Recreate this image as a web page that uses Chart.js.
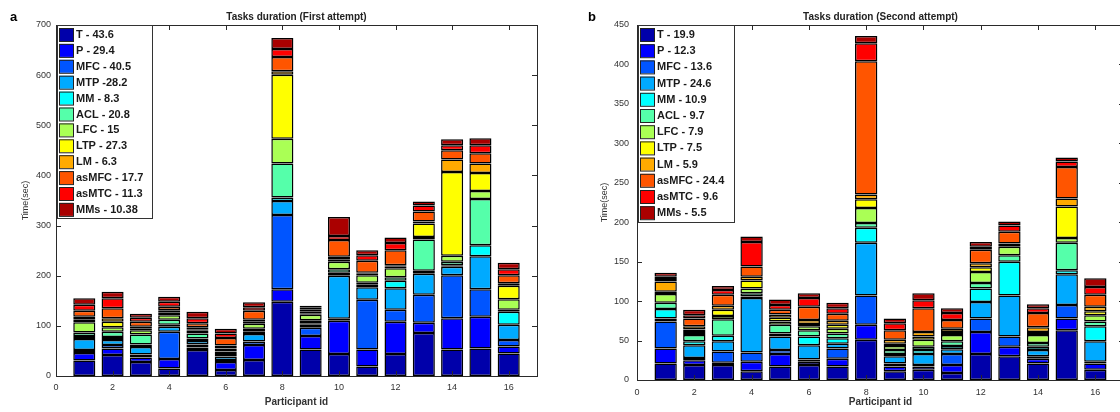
<!DOCTYPE html>
<html>
<head>
<meta charset="utf-8">
<title>Tasks duration</title>
<script src="https://cdn.jsdelivr.net/npm/chart.js@4.4.1/dist/chart.umd.min.js"></script>
<style>
  html, body { margin: 0; padding: 0; background: #fff; }
  body { width: 1120px; height: 412px; overflow: hidden; position: relative; }
  .panel { position: absolute; top: 0; height: 412px; }
  #wrapA { left: 0; width: 560px; }
  #wrapB { left: 560px; width: 600px; }
</style>
</head>
<body>
<div class="panel" id="wrapA"><canvas id="chartA" width="560" height="412"></canvas></div>
<div class="panel" id="wrapB"><canvas id="chartB" width="600" height="412"></canvas></div>
<script>
// Participants and axis ticks
const participants = [1, 2, 3, 4, 5, 6, 7, 8, 9, 10, 11, 12, 13, 14, 15, 16];
const xTickValues = [0, 2, 4, 6, 8, 10, 12, 14, 16];
const yTicksFirst = [0, 100, 200, 300, 400, 500, 600, 700];
const yTicksSecond = [0, 50, 100, 150, 200, 250, 300, 350, 400, 450];

// Legend texts (task - mean time)
const legendFirst = ['T - 43.6', 'P - 29.4', 'MFC - 40.5', 'MTP -28.2', 'MM - 8.3', 'ACL - 20.8',
    'LFC - 15', 'LTP - 27.3', 'LM - 6.3', 'asMFC - 17.7', 'asMTC - 11.3', 'MMs - 10.38'];
const legendSecond = ['T - 19.9', 'P - 12.3', 'MFC - 13.6', 'MTP - 24.6', 'MM - 10.9', 'ACL - 9.7',
    'LFC - 7.9', 'LTP - 7.5', 'LM - 5.9', 'asMFC - 24.4', 'asMTC - 9.6', 'MMs - 5.5'];

// First attempt, seconds per task for participants 1..16
const firstT     = [31, 42, 28, 15, 52, 12, 32, 148, 53, 44, 19, 44, 86, 53, 55, 45];
const firstP     = [15, 13, 9, 19, 5, 16, 30, 25, 27, 66, 34, 64, 20, 62, 63, 14];
const firstMFC   = [6, 7, 6, 54, 6, 4, 7, 148, 16, 4, 99, 24, 56, 86, 55, 13];
const firstMTP   = [22, 10, 15, 10, 7, 7, 15, 28, 6, 86, 25, 43, 42, 17, 66, 30];
const firstMM    = [6, 6, 5, 4, 5, 5, 4, 7, 3, 6, 5, 15, 6, 3, 22, 26];
const firstACL   = [7, 10, 20, 10, 10, 5, 6, 68, 6, 7, 4, 7, 62, 7, 92, 4];
const firstLFC   = [20, 9, 8, 9, 5, 6, 10, 49, 11, 15, 15, 18, 5, 12, 16, 21];
const firstLTP   = [6, 11, 3, 5, 3, 3, 4, 128, 3, 5, 3, 3, 27, 167, 36, 27];
const firstLM    = [5, 7, 4, 5, 4, 3, 4, 7, 3, 5, 2, 3, 4, 25, 19, 5];
const firstAsMFC = [12, 20, 10, 7, 8, 15, 18, 28, 4, 33, 24, 30, 20, 18, 20, 16];
const firstAsMTC = [12, 20, 8, 10, 10, 9, 7, 16, 4, 8, 11, 14, 12, 10, 16, 12];
const firstMMs   = [13, 13, 8, 10, 13, 9, 10, 22, 4, 38, 10, 11, 8, 12, 14, 13];

// Second attempt
const secondT     = [21, 19, 19, 11, 17, 19, 17, 51, 11, 13, 9, 33, 30, 21, 63, 13];
const secondP     = [19, 6, 3, 12, 16, 4, 10, 19, 6, 4, 10, 28, 12, 6, 15, 8];
const secondMFC   = [34, 3, 14, 12, 5, 3, 13, 37, 4, 2, 14, 17, 13, 3, 17, 2];
const secondMTP   = [4, 16, 13, 69, 17, 18, 6, 67, 9, 14, 6, 21, 52, 8, 39, 26];
const secondMM    = [12, 5, 7, 2, 4, 11, 7, 19, 3, 5, 4, 17, 43, 4, 5, 19];
const secondACL   = [8, 8, 21, 4, 11, 8, 6, 6, 5, 4, 6, 7, 8, 5, 35, 6];
const secondLFC   = [11, 4, 4, 6, 4, 5, 6, 19, 5, 9, 8, 14, 11, 10, 6, 8];
const secondLTP   = [3, 3, 8, 10, 5, 3, 5, 11, 3, 4, 4, 6, 2, 4, 40, 5];
const secondLM    = [13, 4, 5, 5, 4, 5, 5, 6, 5, 6, 4, 5, 2, 6, 10, 6];
const secondAsMFC = [3, 10, 14, 13, 6, 17, 9, 169, 12, 30, 11, 17, 15, 18, 40, 15];
const secondAsMTC = [3, 4, 6, 31, 6, 11, 7, 23, 9, 10, 9, 4, 8, 6, 7, 10];
const secondMMs   = [5, 7, 5, 7, 7, 6, 7, 9, 6, 9, 6, 6, 5, 5, 5, 11];

// MATLAB jet(12) colours, one per task
const jetColors = ['#0000AA', '#0000FF', '#0055FF', '#00AAFF', '#00FFFF', '#55FFAA',
    '#AAFF55', '#FFFF00', '#FFAA00', '#FF5500', '#FF0000', '#AA0000'];

const FONT = "Arial, 'Liberation Sans', sans-serif";

// Box frame, inward ticks, in-axes legend and panel letter (MATLAB look)
const matlabFrame = {
    id: 'matlabFrame',
    afterDraw(chart, args, opts) {
        const { ctx, chartArea: a, scales: { x, y } } = chart;
        ctx.save();
        ctx.strokeStyle = '#2a2a2a';
        ctx.lineWidth = 1;
        ctx.beginPath();
        x.ticks.forEach((t) => {
            const px = Math.round(x.getPixelForValue(t.value)) + 0.5;
            ctx.moveTo(px, a.top); ctx.lineTo(px, a.top + 5);
            ctx.moveTo(px, a.bottom); ctx.lineTo(px, a.bottom - 5);
        });
        y.ticks.forEach((t) => {
            const py = Math.round(y.getPixelForValue(t.value)) + 0.5;
            ctx.moveTo(a.left, py); ctx.lineTo(a.left + 5, py);
            ctx.moveTo(a.right, py); ctx.lineTo(a.right - 5, py);
        });
        ctx.stroke();
        ctx.strokeRect(Math.round(a.left) + 0.5, Math.round(a.top) + 0.5,
            Math.round(a.right - a.left), Math.round(a.bottom - a.top));

        // legend inside the axes, top left
        const lx = a.left + 1, ly = a.top;
        ctx.fillStyle = '#fff';
        ctx.fillRect(lx, ly, opts.boxW, opts.boxH);
        ctx.strokeStyle = '#333';
        ctx.strokeRect(lx + 0.5, ly + 0.5, opts.boxW, opts.boxH);
        ctx.font = 'bold 11px ' + FONT;
        ctx.textBaseline = 'middle';
        chart.data.datasets.forEach((ds, i) => {
            const cy = ly + opts.firstRow + i * opts.rowH;
            ctx.fillStyle = ds.backgroundColor;
            ctx.fillRect(lx + 2, cy - 6.5, 14, 13);
            ctx.strokeStyle = '#222';
            ctx.strokeRect(lx + 2.5, cy - 6, 14, 13);
            ctx.fillStyle = '#1a1a1a';
            ctx.fillText(ds.label, lx + 19, cy + 0.5);
        });

        // panel letter
        ctx.font = 'bold 13px ' + FONT;
        ctx.fillStyle = '#000';
        ctx.textBaseline = 'middle';
        ctx.fillText(opts.letter, opts.letterX, opts.letterY);
        ctx.restore();
    }
};

function buildDatasets(series, labels) {
    return series.map((values, i) => ({
        label: labels[i],
        data: values,
        backgroundColor: jetColors[i],
        borderColor: '#000',
        borderWidth: 1.5,
        borderSkipped: false,
        barPercentage: 0.78,
        categoryPercentage: 1
    }));
}

function makeChart(canvasId, series, labels, yTicks, cfg) {
    const ctx = document.getElementById(canvasId).getContext('2d');
    return new Chart(ctx, {
        type: 'bar',
        data: { labels: participants, datasets: buildDatasets(series, labels) },
        options: {
            responsive: false,
            animation: false,
            layout: { padding: { left: 0, right: cfg.padRight, top: 0, bottom: 0 } },
            plugins: {
                legend: { display: false },
                tooltip: { enabled: false },
                title: {
                    display: true,
                    text: cfg.title,
                    fullSize: false,
                    color: '#222',
                    font: { family: FONT, size: 10, weight: 'bold' },
                    padding: { top: 11, bottom: 2 }
                },
                matlabFrame: cfg.frame
            },
            scales: {
                x: {
                    type: 'linear',
                    min: 0,
                    max: 17,
                    offset: false,
                    stacked: true,
                    afterBuildTicks: (s) => { s.ticks = xTickValues.map((v) => ({ value: v })); },
                    afterFit: (s) => { s.height = cfg.xHeight; },
                    grid: { display: false, drawTicks: false },
                    border: { display: false },
                    ticks: { padding: cfg.xTickPad, color: '#333', font: { family: FONT, size: 9 } },
                    title: {
                        display: true,
                        text: 'Participant id',
                        color: '#333',
                        font: { family: FONT, size: 10, weight: 'bold' },
                        padding: { top: 0, bottom: 4 }
                    }
                },
                y: {
                    min: 0,
                    max: yTicks[yTicks.length - 1],
                    stacked: true,
                    afterBuildTicks: (s) => { s.ticks = yTicks.map((v) => ({ value: v })); },
                    afterFit: (s) => { s.width = cfg.yWidth; },
                    grid: { display: false, drawTicks: false },
                    border: { display: false },
                    ticks: { padding: cfg.yTickPad, color: '#333', font: { family: FONT, size: 9 } },
                    title: {
                        display: true,
                        text: 'Time(sec)',
                        color: '#333',
                        font: { family: FONT, size: 9 },
                        padding: { top: cfg.yTitlePad, bottom: 0 }
                    }
                }
            }
        },
        plugins: [matlabFrame]
    });
}

const chartA = makeChart('chartA',
    [firstT, firstP, firstMFC, firstMTP, firstMM, firstACL, firstLFC, firstLTP, firstLM, firstAsMFC, firstAsMTC, firstMMs],
    legendFirst, yTicksFirst, {
        title: 'Tasks duration (First attempt)',
        padRight: 23, yWidth: 56, xHeight: 36, xTickPad: 6, yTickPad: 5, yTitlePad: 20,
        frame: { boxW: 95, boxH: 193, firstRow: 9.5, rowH: 15.9, letter: 'a', letterX: 10, letterY: 17 }
    });

const chartB = makeChart('chartB',
    [secondT, secondP, secondMFC, secondMTP, secondMM, secondACL, secondLFC, secondLTP, secondLM, secondAsMFC, secondAsMTC, secondMMs],
    legendSecond, yTicksSecond, {
        title: 'Tasks duration (Second attempt)',
        padRight: 36, yWidth: 77, xHeight: 32, xTickPad: 7, yTickPad: 8, yTitlePad: 39,
        frame: { boxW: 96, boxH: 197, firstRow: 9.5, rowH: 16.2, letter: 'b', letterX: 28, letterY: 17 }
    });
</script>
</body>
</html>
